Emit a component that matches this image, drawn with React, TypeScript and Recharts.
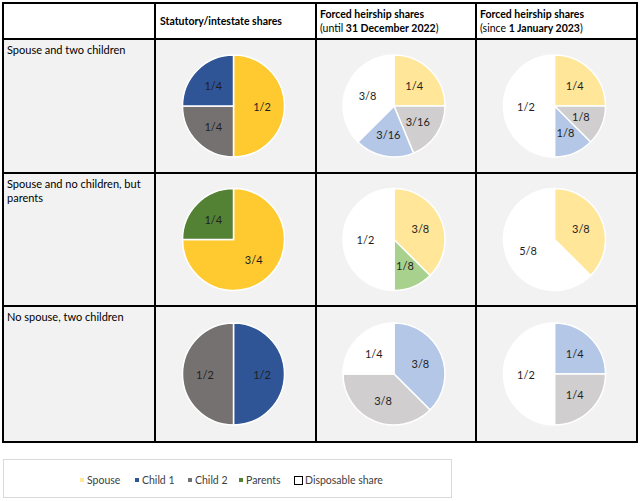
import React from 'react';
import { PieChart, Pie, Cell } from 'recharts';

const FONT = 'Lato, "Open Sans", sans-serif';

// Table geometry (page pixels)
const COL_X = [3, 155, 316, 476, 637];
const ROW_Y = [3, 39, 173, 306, 442];

const headerTitles = ['Statutory/intestate shares', 'Forced heirship shares', 'Forced heirship shares'];
const headerSubPrefix = ['', '(until ', '(since '];
const headerSubBold = ['', '31 December 2022', '1 January 2023'];
const rowLabels = [
  ['Spouse and two children'],
  ['Spouse and no children, but', 'parents'],
  ['No spouse, two children'],
];

const legendNames = ['Spouse', 'Child 1', 'Child 2', 'Parents', 'Disposable share'];
const legendKeys = ['spouse', 'child1', 'child2', 'parents', 'disposable'];

const darkColors: Record<string, string> = {
  spouse: '#FFC930',
  child1: '#2F5597',
  child2: '#767171',
  parents: '#548235',
  disposable: '#FFFFFF',
};
const lightColors: Record<string, string> = {
  spouse: '#FFE699',
  child1: '#B4C7E7',
  child2: '#D0CECE',
  parents: '#A9D18E',
  disposable: '#FFFFFF',
};
const legendColors = ['#FFE699', '#2F5597', '#767171', '#548235', '#FFFFFF'];

// Row 1: spouse and two children
const r1StatKeys = ['spouse', 'child2', 'child1'];
const r1StatValues = [0.5, 0.25, 0.25];
const r1StatLabels = ['1/2', '1/4', '1/4'];
const r1OldKeys = ['spouse', 'child2', 'child1', 'disposable'];
const r1OldValues = [0.25, 0.1875, 0.1875, 0.375];
const r1OldLabels = ['1/4', '3/16', '3/16', '3/8'];
const r1NewKeys = ['spouse', 'child2', 'child1', 'disposable'];
const r1NewValues = [0.25, 0.125, 0.125, 0.5];
const r1NewLabels = ['1/4', '1/8', '1/8', '1/2'];

// Row 2: spouse, no children, parents
const r2StatKeys = ['spouse', 'parents'];
const r2StatValues = [0.75, 0.25];
const r2StatLabels = ['3/4', '1/4'];
const r2OldKeys = ['spouse', 'parents', 'disposable'];
const r2OldValues = [0.375, 0.125, 0.5];
const r2OldLabels = ['3/8', '1/8', '1/2'];
const r2NewKeys = ['spouse', 'disposable'];
const r2NewValues = [0.375, 0.625];
const r2NewLabels = ['3/8', '5/8'];

// Row 3: no spouse, two children
const r3StatKeys = ['child1', 'child2'];
const r3StatValues = [0.5, 0.5];
const r3StatLabels = ['1/2', '1/2'];
const r3OldKeys = ['child1', 'child2', 'disposable'];
const r3OldValues = [0.375, 0.375, 0.25];
const r3OldLabels = ['3/8', '3/8', '1/4'];
const r3NewKeys = ['child1', 'child2', 'disposable'];
const r3NewValues = [0.25, 0.25, 0.5];
const r3NewLabels = ['1/4', '1/4', '1/2'];

type PieSpec = { keys: string[]; values: number[]; labels: string[]; dark: boolean };

const pies: PieSpec[][] = [
  [
    { keys: r1StatKeys, values: r1StatValues, labels: r1StatLabels, dark: true },
    { keys: r1OldKeys, values: r1OldValues, labels: r1OldLabels, dark: false },
    { keys: r1NewKeys, values: r1NewValues, labels: r1NewLabels, dark: false },
  ],
  [
    { keys: r2StatKeys, values: r2StatValues, labels: r2StatLabels, dark: true },
    { keys: r2OldKeys, values: r2OldValues, labels: r2OldLabels, dark: false },
    { keys: r2NewKeys, values: r2NewValues, labels: r2NewLabels, dark: false },
  ],
  [
    { keys: r3StatKeys, values: r3StatValues, labels: r3StatLabels, dark: true },
    { keys: r3OldKeys, values: r3OldValues, labels: r3OldLabels, dark: false },
    { keys: r3NewKeys, values: r3NewValues, labels: r3NewLabels, dark: false },
  ],
];

const RADIAN = Math.PI / 180;

function SharePie({ spec, w, h }: { spec: PieSpec; w: number; h: number }) {
  const data = spec.keys.map((k, i) => ({ name: k, value: spec.values[i], label: spec.labels[i] }));
  const palette = spec.dark ? darkColors : lightColors;
  const renderLabel = (p: any) => {
    const r = p.outerRadius * 0.56;
    const x = p.cx + r * Math.cos(-p.midAngle * RADIAN);
    const y = p.cy + r * Math.sin(-p.midAngle * RADIAN);
    return (
      <text x={x} y={y} textAnchor="middle" dominantBaseline="central" fontSize={11} fill="#1F1F1F" fontFamily={FONT}>
        {data[p.index].label}
      </text>
    );
  };
  return (
    <PieChart width={w} height={h} margin={{ top: 0, right: 0, bottom: 0, left: 0 }}>
      <Pie
        data={data}
        dataKey="value"
        cx={w / 2 - 2}
        cy={h / 2}
        outerRadius={51}
        startAngle={90}
        endAngle={-270}
        stroke="#FFFFFF"
        strokeWidth={1.5}
        label={renderLabel}
        labelLine={false}
        isAnimationActive={false}
      >
        {data.map((d, i) => (
          <Cell key={i} fill={palette[d.name]} />
        ))}
      </Pie>
    </PieChart>
  );
}

export default function App() {
  const cells: React.ReactNode[] = [];
  // backgrounds
  for (let r = 0; r < 4; r++) {
    for (let c = 0; c < 4; c++) {
      cells.push(
        <div
          key={`bg-${r}-${c}`}
          style={{
            position: 'absolute',
            left: COL_X[c],
            top: ROW_Y[r],
            width: COL_X[c + 1] - COL_X[c],
            height: ROW_Y[r + 1] - ROW_Y[r],
            background: r === 0 ? '#FFFFFF' : '#F2F2F2',
          }}
        />
      );
    }
  }
  // pies
  for (let r = 0; r < 3; r++) {
    for (let c = 0; c < 3; c++) {
      const w = COL_X[c + 2] - COL_X[c + 1];
      const h = ROW_Y[r + 2] - ROW_Y[r + 1];
      cells.push(
        <div key={`pie-${r}-${c}`} style={{ position: 'absolute', left: COL_X[c + 1], top: ROW_Y[r + 1], width: w, height: h }}>
          <SharePie spec={pies[r][c]} w={w} h={h} />
        </div>
      );
    }
  }
  // grid lines
  COL_X.forEach((x, i) =>
    cells.push(
      <div key={`vl-${i}`} style={{ position: 'absolute', left: x - 1, top: ROW_Y[0] - 1, width: 2, height: ROW_Y[4] - ROW_Y[0] + 2, background: '#000' }} />
    )
  );
  ROW_Y.forEach((y, i) =>
    cells.push(
      <div key={`hl-${i}`} style={{ position: 'absolute', left: COL_X[0] - 1, top: y - 1, width: COL_X[4] - COL_X[0] + 2, height: 2, background: '#000' }} />
    )
  );

  const textBase: React.CSSProperties = { position: 'absolute', fontFamily: FONT, fontSize: 11, color: '#000', whiteSpace: 'nowrap', lineHeight: '14px' };

  return (
    <div style={{ position: 'absolute', left: 0, top: 0, width: 640, height: 501, background: '#FFFFFF', overflow: 'hidden' }}>
      {cells}
      {/* headers */}
      {headerTitles.map((t, i) =>
        i === 0 ? (
          <div key={`h-${i}`} style={{ ...textBase, fontSize: 10.5, left: COL_X[i + 1] + 5, top: 14, fontWeight: 700 }}>{t}</div>
        ) : (
          <div key={`h-${i}`} style={{ ...textBase, fontSize: 10.5, left: COL_X[i + 1] + 4, top: 7 }}>
            <div style={{ fontWeight: 700 }}>{t}</div>
            <div>
              {headerSubPrefix[i]}
              <span style={{ fontWeight: 700 }}>{headerSubBold[i]}</span>)
            </div>
          </div>
        )
      )}
      {/* row labels */}
      {rowLabels.map((lines, i) => (
        <div key={`rl-${i}`} style={{ ...textBase, left: 7, top: ROW_Y[i + 1] + 4 }}>
          {lines.map((l, j) => (
            <div key={j}>{l}</div>
          ))}
        </div>
      ))}
      {/* legend */}
      <div style={{ position: 'absolute', left: 3, top: 459, width: 449, height: 39, border: '1px solid #D9D9D9', boxSizing: 'border-box' }} />
      <div style={{ position: 'absolute', left: 0, top: 473, width: 460, height: 14, fontFamily: FONT, fontSize: 10.5, color: '#404040' }}>
        {legendNames.map((n, i) => {
          const lefts = [80, 135, 188, 239, 294];
          const isBox = legendKeys[i] === 'disposable';
          return (
            <div key={n} style={{ position: 'absolute', left: lefts[i], top: 0, height: 14, display: 'flex', alignItems: 'center', whiteSpace: 'nowrap' }}>
              <div
                style={{
                  width: isBox ? 7 : 4,
                  height: isBox ? 7 : 4,
                  background: legendColors[i],
                  border: isBox ? '1.5px solid #000' : 'none',
                  marginRight: isBox ? 2 : 3,
                }}
              />
              <span>{n}</span>
            </div>
          );
        })}
      </div>
    </div>
  );
}
